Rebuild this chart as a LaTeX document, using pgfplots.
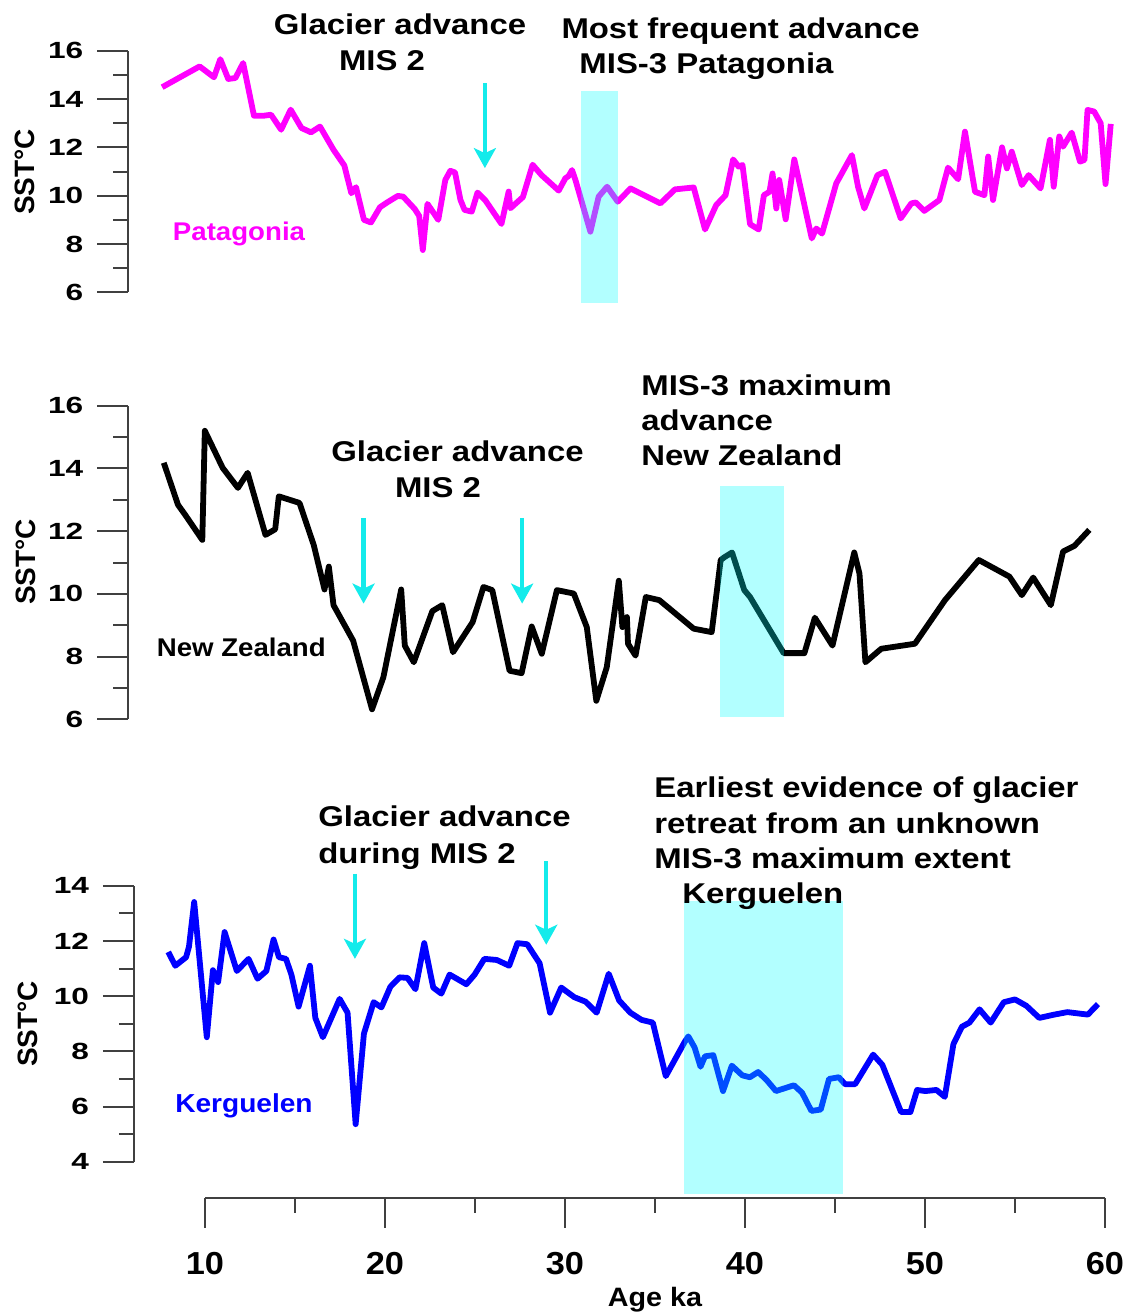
\documentclass[border=0pt]{standalone}
\usepackage{fontspec}
\setmainfont{Liberation Sans}[FakeStretch=1.08]
\newfontfamily\annfont{Liberation Sans}[FakeStretch=1.15]
\newfontfamily\ytfont{Liberation Sans}[FakeStretch=1.35]
\newfontfamily\labfont{Liberation Sans}
\usepackage{pgfplots}
\pgfplotsset{compat=1.18}
\usetikzlibrary{arrows.meta}

\definecolor{pat}{RGB}{255,0,255}
\definecolor{ker}{RGB}{0,0,255}
\definecolor{arrowc}{RGB}{20,235,235}
\definecolor{bandc}{RGB}{0,255,255}

\pgfplotsset{
  panel/.style={
    anchor=south west, clip=false, x=9pt, xmax=61,
    axis x line=none, axis y line*=left, xtick=\empty,
    minor y tick num=1, tick align=outside,
    major tick length=15.5pt, minor tick length=7.5pt,
    axis line style={black!75, line width=1pt},
    tick style={black!75, line width=1pt},
    /pgf/number format/assume math mode=true,
    yticklabel style={font=\ytfont\bfseries\fontsize{11.7}{12}\selectfont, xshift=-3.5pt},
  },
  sst/.style={line width=2.9pt, line join=round},
  band/.style={draw=none, fill=bandc, fill opacity=0.3},
  adv/.style={color=arrowc, line width=2.1pt, -{Stealth[length=10pt,width=11pt,inset=2.5pt]}},
}

\begin{document}
\begin{tikzpicture}
\useasboundingbox (0,0) rectangle (562.5pt,-656.5pt);

% Patagonia
\begin{axis}[panel, at={(64.15pt,-146.15pt)}, xmin=5.739, ymin=6, ymax=16, y=12.08pt, ytick={6,8,...,16}]
\addplot[sst, color=pat] coordinates {
(7.62,14.49) (9.70,15.35) (10.5,14.9) (10.85,15.65) (11.29,14.83) (11.69,14.87) (12.12,15.49)
(12.72,13.31) (13.27,13.31) (13.67,13.35) (14.23,12.73) (14.76,13.56) (15.36,12.8) (15.89,12.62)
(16.39,12.86) (17.14,11.9) (17.74,11.25) (18.13,10.1) (18.39,10.35) (18.83,9.0) (19.22,8.89)
(19.72,9.52) (20.12,9.72) (20.71,9.99) (21.01,9.96) (21.65,9.45) (21.9,9.16) (22.1,7.75)
(22.36,9.66) (22.96,9.0) (23.35,10.65) (23.63,11.03) (23.89,10.96) (24.19,9.83) (24.42,9.41)
(24.82,9.34) (25.14,10.13) (25.58,9.8) (26.47,8.83) (26.87,10.17) (26.97,9.48) (27.66,9.94)
(28.2,11.28) (28.7,10.85) (29.65,10.21) (30.02,10.72) (30.2,10.81) (30.39,11.06) (30.58,10.65)
(31.41,8.51) (31.87,9.96) (32.34,10.37) (32.93,9.75) (33.64,10.3) (35.3,9.68) (36.11,10.26)
(37.15,10.34) (37.78,8.6) (38.4,9.61) (38.92,10.02) (39.34,11.5) (39.65,11.2) (39.86,11.27)
(40.28,8.82) (40.76,8.6) (41.05,10.02) (41.36,10.16) (41.53,10.92) (41.74,9.47) (41.9,10.65)
(42.26,9.02) (42.74,11.5) (43.71,8.23) (43.96,8.64) (44.28,8.43) (45.07,10.51) (45.94,11.68)
(46.28,10.37) (46.63,9.47) (47.36,10.85) (47.78,10.99) (48.65,9.06) (49.24,9.68) (49.49,9.72)
(49.96,9.37) (50.8,9.82) (51.28,11.16) (51.84,10.68) (52.22,12.65) (52.78,10.16) (53.3,10.02)
(53.51,11.62) (53.78,9.82) (54.28,12.0) (54.55,11.13) (54.82,11.82) (55.38,10.44) (55.76,10.85)
(56.42,10.3) (56.94,12.31) (57.15,10.37) (57.46,12.45) (57.67,12.03) (58.15,12.61) (58.61,11.41)
(58.86,11.48) (59.03,13.55) (59.4,13.48) (59.76,13.0) (60.03,10.48) (60.32,12.97)
};
\addplot[band] coordinates {(30.9,5.57) (32.92,5.57) (32.92,14.34) (30.9,14.34)};
\addplot[adv] coordinates {(25.55,14.66) (25.55,11.14)};
\end{axis}

% New Zealand
\begin{axis}[panel, at={(64.15pt,-359.65pt)}, xmin=5.739, ymin=6, ymax=16, y=15.68pt, ytick={6,8,...,16}]
\addplot[sst, color=black] coordinates {
(7.71,14.18) (8.5,12.84) (8.9,12.52) (9.85,11.72) (9.99,15.2) (10.98,14.02) (11.83,13.38)
(12.37,13.86) (13.36,11.88) (13.9,12.06) (14.1,13.11) (15.25,12.9) (16.04,11.56) (16.64,10.14)
(16.88,10.87) (17.14,9.64) (18.23,8.51) (19.28,6.32) (19.91,7.34) (20.9,10.14) (21.1,8.35)
(21.6,7.82) (22.63,9.45) (23.18,9.64) (23.78,8.14) (24.87,9.1) (25.47,10.22) (25.96,10.12)
(26.92,7.55) (27.59,7.47) (28.15,8.96) (28.71,8.09) (29.55,10.12) (30.49,10.01) (31.21,8.94)
(31.74,6.59) (32.32,7.66) (32.99,10.42) (33.19,8.94) (33.44,9.26) (33.5,8.41) (33.92,8.03)
(34.49,9.9) (35.24,9.8) (37.15,8.89) (38.15,8.78) (38.65,11.08) (38.86,11.17) (39.28,11.32)
(39.96,10.12) (40.28,9.9) (42.15,8.11) (43.3,8.11) (43.88,9.24) (44.86,8.35) (46.07,11.32)
(46.36,10.65) (46.69,7.82) (47.57,8.25) (49.44,8.41) (51.11,9.8) (52.99,11.08) (54.69,10.55)
(55.38,9.96) (56.01,10.52) (56.99,9.64) (57.67,11.35) (58.3,11.53) (59.13,12.04)
};
\addplot[band] coordinates {(38.61,6.08) (42.19,6.08) (42.19,13.44) (38.61,13.44)};
\addplot[adv] coordinates {(18.81,12.42) (18.81,9.69)};
\addplot[adv] coordinates {(27.62,12.42) (27.62,9.69)};
\end{axis}

% Kerguelen
\begin{axis}[panel, at={(67pt,-580.85pt)}, xmin=6.056, ymin=4, ymax=14, y=13.8pt, ytick={4,6,...,14}]
\addplot[sst, color=ker] coordinates {
(7.96,11.6) (8.35,11.1) (8.95,11.41) (9.11,11.79) (9.4,13.41) (10.1,8.51) (10.44,10.94)
(10.73,10.51) (11.09,12.32) (11.77,10.91) (12.42,11.35) (12.92,10.63) (13.41,10.91) (13.81,12.05)
(14.11,11.41) (14.5,11.35) (14.8,10.78) (15.2,9.62) (15.83,11.1) (16.13,9.21) (16.55,8.51)
(17.48,9.9) (17.92,9.4) (18.37,5.36) (18.83,8.64) (19.37,9.78) (19.8,9.59) (20.3,10.34)
(20.81,10.68) (21.25,10.66) (21.69,10.25) (22.18,11.92) (22.68,10.31) (23.13,10.09) (23.59,10.78)
(24.07,10.6) (24.52,10.43) (24.98,10.78) (25.52,11.35) (26.21,11.31) (26.9,11.1) (27.36,11.92)
(27.9,11.88) (28.59,11.19) (29.17,9.4) (29.79,10.31) (30.52,9.96) (31.14,9.8) (31.76,9.4)
(32.43,10.81) (33.01,9.84) (33.63,9.4) (34.25,9.14) (34.88,9.04) (35.6,7.1) (36.64,8.33)
(36.85,8.54) (37.2,8.14) (37.53,7.44) (37.78,7.82) (38.24,7.86) (38.78,6.56) (39.27,7.48)
(39.85,7.13) (40.27,7.06) (40.73,7.25) (41.2,6.96) (41.72,6.56) (42.72,6.77) (43.17,6.5)
(43.69,5.84) (44.21,5.89) (44.67,7.0) (45.21,7.06) (45.56,6.81) (46.12,6.81) (47.12,7.88)
(47.63,7.51) (48.67,5.8) (49.19,5.8) (49.56,6.6) (50.02,6.56) (50.64,6.6) (51.1,6.35)
(51.58,8.26) (52.05,8.89) (52.47,9.04) (53.03,9.52) (53.65,9.04) (54.38,9.78) (55.0,9.88)
(55.63,9.65) (56.35,9.21) (57.18,9.33) (57.91,9.42) (59.05,9.33) (59.61,9.71)
};
\addplot[band] coordinates {(36.6,2.84) (45.46,2.84) (45.46,13.43) (36.6,13.43)};
\addplot[adv] coordinates {(18.33,14.44) (18.33,11.35)};
\addplot[adv] coordinates {(28.96,14.88) (28.96,11.86)};
\end{axis}

% shared age axis
\begin{axis}[at={(102.5pt,-598.85pt)}, anchor=south west, x=9pt, y=1pt,
  xmin=10, xmax=60, ymin=0, ymax=1,
  axis y line=none, axis x line*=bottom,
  xtick={10,20,...,60}, minor x tick num=1, tick align=outside,
  major tick length=15pt, minor tick length=7.5pt,
  axis line style={black!75, line width=1pt},
  tick style={black!75, line width=1pt},
  /pgf/number format/assume math mode=true,
  xticklabel style={font=\bfseries\fontsize{15.9}{17}\selectfont, yshift=-9pt},
  xlabel={Age ka},
  xlabel style={font=\bfseries\fontsize{13.3}{15}\selectfont,
    at={(axis description cs:0.5,0)}, anchor=base, yshift=-54.6pt}]
\end{axis}

\begin{scope}[x=0.5pt, y=-0.5pt, inner sep=0pt]
\begin{scope}[font=\labfont\bfseries\fontsize{14}{16}\selectfont]
\node[rotate=90] at (25,172) {SST°C};
\node[rotate=90] at (26,562) {SST°C};
\node[rotate=90] at (27.7,1024) {SST°C};
\end{scope}
\begin{scope}[font=\annfont\bfseries\fontsize{14.3}{16}\selectfont]
\node[anchor=base] at (400,34) {Glacier advance};
\node[anchor=base] at (382,70) {MIS 2};
\node[anchor=base] at (740.6,38.3) {Most frequent advance};
\node[anchor=base] at (706.5,73.3) {MIS-3 Patagonia};
\node[anchor=base] at (457.5,461.7) {Glacier advance};
\node[anchor=base] at (438,497.3) {MIS 2};
\node[anchor=base west] at (641,395) {MIS-3 maximum};
\node[anchor=base west] at (641,430) {advance};
\node[anchor=base west] at (641,465) {New Zealand};
\node[anchor=base west] at (318,826.5) {Glacier advance};
\node[anchor=base west] at (318,863) {during MIS 2};
\node[anchor=base west] at (654,797) {Earliest evidence of glacier};
\node[anchor=base west] at (654,833.5) {retreat from an unknown};
\node[anchor=base west] at (654,868.3) {MIS-3 maximum extent};
\node[anchor=base west] at (682,903) {Kerguelen};
\end{scope}
\node[anchor=base, pat, font=\bfseries\fontsize{12.8}{14}\selectfont] at (239,240) {Patagonia};
\node[anchor=base, font=\bfseries\fontsize{12.8}{14}\selectfont] at (241.3,656.7) {New Zealand};
\node[anchor=base, ker, font=\bfseries\fontsize{13}{14}\selectfont] at (244,1112) {Kerguelen};
\end{scope}
\end{tikzpicture}
\end{document}
